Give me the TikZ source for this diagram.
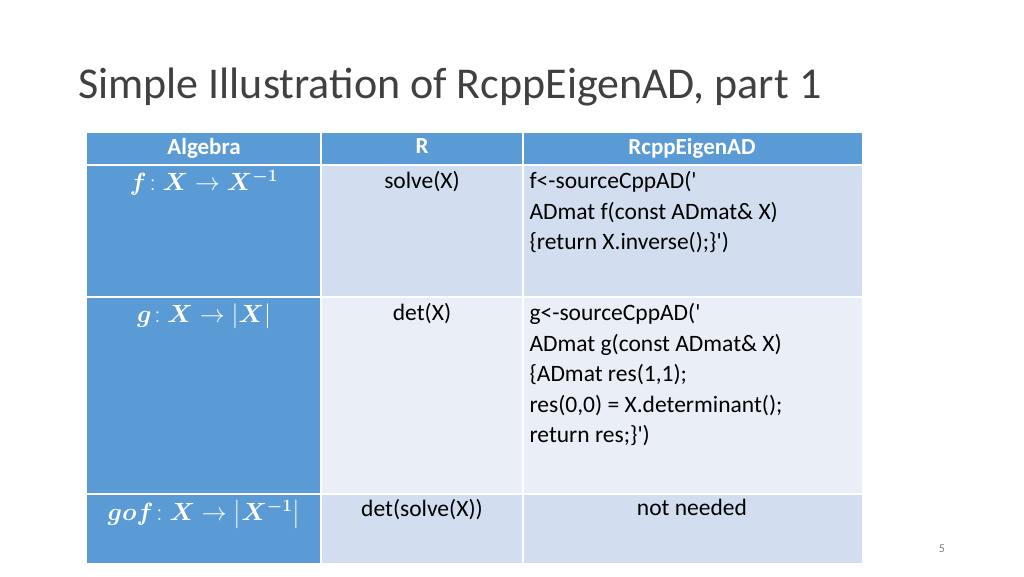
\documentclass[tikz,border=0pt]{standalone}
\usepackage{fontspec}
\setmainfont{Carlito}
\usepackage{amsmath,amssymb,bm}
\usetikzlibrary{positioning}
\definecolor{hdrblue}{HTML}{5B9BD5}
\definecolor{celldark}{HTML}{D2DEEF}
\definecolor{celllight}{HTML}{EAEFF7}
\definecolor{titlegray}{HTML}{404040}
\newcommand{\sq}{\textquotesingle}
\begin{document}
\begin{tikzpicture}[x=1pt,y=-1pt,
    cell/.style={draw=white,line width=1.5pt},
    hdr/.style={anchor=north,text=white,font=\fontsize{23}{26}\selectfont\bfseries},
    body/.style={anchor=north,text=black,font=\fontsize{23.5}{30.5}\selectfont,align=left},
    algm/.style={anchor=north,text=white,font=\fontsize{23}{26}\selectfont,inner sep=2pt}]
    \useasboundingbox[fill=white] (0,0) rectangle (1024,576);
    % Title
    \node[anchor=west,text=titlegray,font=\fontsize{44}{50}\selectfont,inner sep=0pt] (title) at (78,87)
        {Simple Illustration of RcppEigenAD, part 1};
    % Cells
    \fill[hdrblue] (87,133) rectangle (862,165);
    \fill[hdrblue] (87,165) rectangle (321,563);
    \fill[celldark] (321,165) rectangle (862,297);
    \fill[celllight] (321,297) rectangle (862,494);
    \fill[celldark] (321,494) rectangle (862,563);
    \foreach \y in {165,297,494}
        \draw[cell] (87,\y) -- (862,\y);
    \foreach \x in {321,523}
        \draw[cell] (\x,133) -- (\x,563);
    % Header
    \node[hdr] (h-alg) at (204,135) {Algebra};
    \node[hdr] (h-r) at (422,135) {R};
    \node[hdr] (h-ad) at (692,135) {RcppEigenAD};
    % Algebra column
    \node[algm] (a-1) at (204,168) {$\boldsymbol{f}\!:\boldsymbol{X}\rightarrow\boldsymbol{X}^{\boldsymbol{-1}}$};
    \node[algm] (a-2) at (204,302) {$\boldsymbol{g}\!:\boldsymbol{X}\rightarrow|\boldsymbol{X}|$};
    \node[algm] (a-3) at (204,498) {$\boldsymbol{gof}\!:\boldsymbol{X}\rightarrow\left|\boldsymbol{X}^{\boldsymbol{-1}}\right|$};
    % R column
    \node[body] (r-1) at (422,168) {solve(X)};
    \node[body] (r-2) at (422,300) {det(X)};
    \node[body] (r-3) at (422,496) {det(solve(X))};
    % RcppEigenAD column
    \node[body,anchor=north west] (c-1) at (526,168)
        {f<-sourceCppAD(\sq\\ADmat f(const ADmat\& X)\\\{return X.inverse();\}\sq)};
    \node[body,anchor=north west] (c-2) at (526,300)
        {g<-sourceCppAD(\sq\\ADmat g(const ADmat\& X)\\\{ADmat res(1,1);\\res(0,0) = X.determinant();\\return res;\}\sq)};
    \node[body] (c-3) at (692,496) {not needed};
    % Page number
    \node[text=gray,font=\fontsize{12}{14}\selectfont] (pg) at (942,549) {5};
\end{tikzpicture}
\end{document}
